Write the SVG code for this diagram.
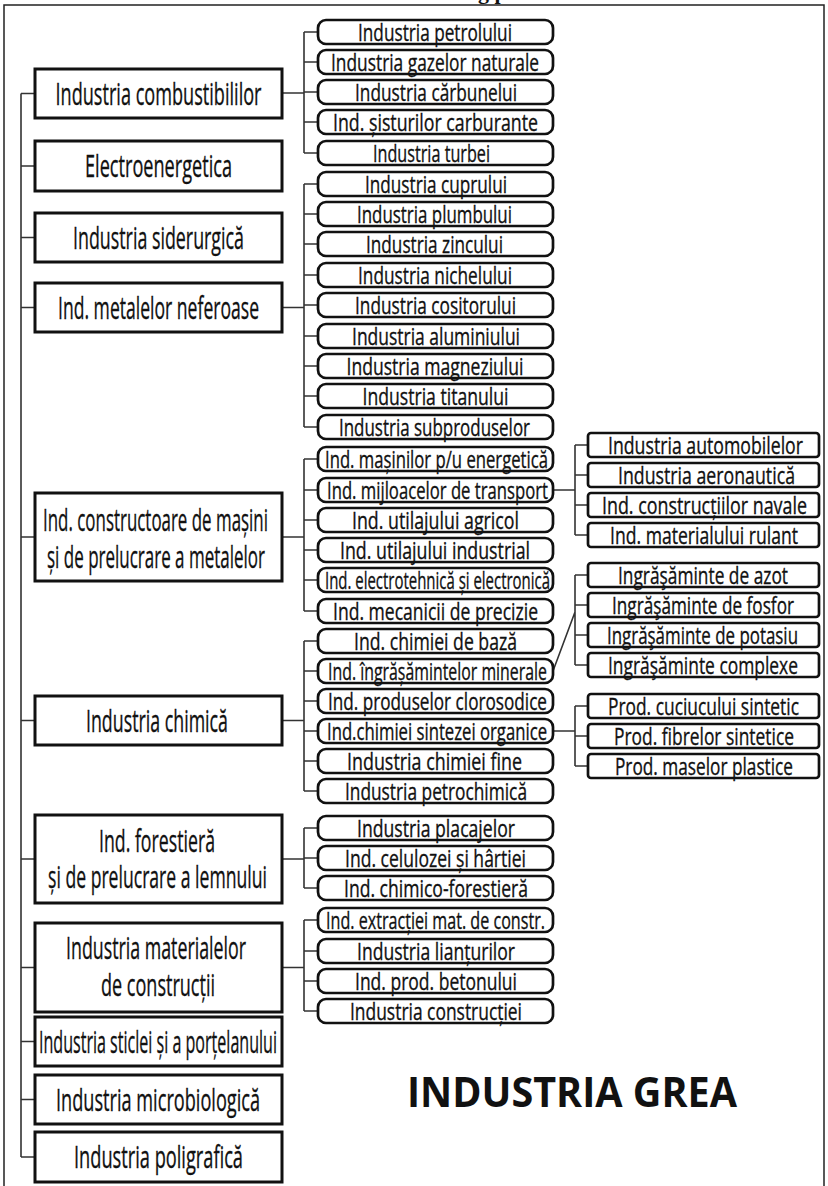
<svg xmlns="http://www.w3.org/2000/svg" width="828" height="1186" viewBox="0 0 828 1186">
<style>
  .bg{fill:#ffffff}
  .frame{fill:none;stroke:#222;stroke-width:1.5}
  .l1 rect{fill:#fff;stroke:#111;stroke-width:3}
  .l2 rect{fill:#fff;stroke:#111;stroke-width:2.7}
  .l3 rect{fill:#fff;stroke:#111;stroke-width:2.7}
  text{font-family:"Open Sans","Noto Sans","Liberation Sans",sans-serif;fill:#111;stroke:#111;stroke-width:0.35;text-anchor:middle}
  .t1{font-size:31px}
  .t2{font-size:24.5px}
  .t3{font-size:24.5px}
  .title{font-size:42px;font-weight:bold;stroke-width:0}
  .cut{font-family:"Liberation Serif",serif;font-size:22px;font-weight:bold;text-anchor:start;stroke-width:0}
  .conn path{fill:none;stroke:#333;stroke-width:1.6}
</style>
<rect class="bg" x="0" y="0" width="828" height="1186"/>
<path class="frame" d="M4,1190 V5 H824 V1190"/>
<text class="cut" x="478" y="-1.5">g p</text>

<g id="connectors" class="conn">
  <path d="M21,93.5 V1157 M21,93.5 H35 M21,166 H35 M21,237.5 H35 M21,307.5 H35 M21,537 H35 M21,720.5 H35 M21,859 H35 M21,967.5 H35 M21,1041.5 H35 M21,1099.5 H35 M21,1157 H35"/>
  <path d="M282,93 H304 M304,32 V153 M304,32 H318 M304,62 H318 M304,92 H318 M304,122 H318 M304,153 H318"/>
  <path d="M282,307.5 H304 M304,184 V427 M304,184 H318 M304,214 H318 M304,244 H318 M304,275 H318 M304,305 H318 M304,336 H318 M304,366 H318 M304,396 H318 M304,427 H318"/>
  <path d="M282,537 H304 M304,459 V611 M304,459 H318 M304,490 H318 M304,520 H318 M304,550 H318 M304,580 H318 M304,611 H318"/>
  <path d="M282,720.5 H304 M304,641 V791 M304,641 H318 M304,671 H318 M304,701 H318 M304,731 H318 M304,761 H318 M304,791 H318"/>
  <path d="M282,859 H304 M304,828 V888 M304,828 H318 M304,858 H318 M304,888 H318"/>
  <path d="M282,967.5 H304 M304,920 V1011 M304,920 H318 M304,951 H318 M304,981 H318 M304,1011 H318"/>
  <path d="M553,490 H575 M575,445 V535 M575,445 H588 M575,475 H588 M575,505 H588 M575,535 H588"/>
  <path d="M553,671 L575,612 M575,575 V665 M575,575 H588 M575,605 H588 M575,635 H588 M575,665 H588"/>
  <path d="M553,731 H575 M575,706 V766 M575,706 H588 M575,736 H588 M575,766 H588"/>
</g>

<!-- Level 1 -->
<g id="n-combustibili" class="l1"><rect x="35" y="69" width="247" height="49"/><text class="t1" x="158.5" y="104.5" textLength="206" lengthAdjust="spacingAndGlyphs">Industria combustibililor</text></g>
<g id="n-electro" class="l1"><rect x="35" y="141" width="247" height="50"/><text class="t1" x="158.5" y="177" textLength="147" lengthAdjust="spacingAndGlyphs">Electroenergetica</text></g>
<g id="n-siderurgica" class="l1"><rect x="35" y="213" width="247" height="49"/><text class="t1" x="158.5" y="248.5" textLength="171" lengthAdjust="spacingAndGlyphs">Industria siderurgică</text></g>
<g id="n-neferoase" class="l1"><rect x="35" y="283" width="247" height="49"/><text class="t1" x="158.5" y="318.5" textLength="201" lengthAdjust="spacingAndGlyphs">Ind. metalelor neferoase</text></g>
<g id="n-constructoare" class="l1"><rect x="35" y="493" width="247" height="88"/><text class="t1" x="155.5" y="530.5" textLength="225" lengthAdjust="spacingAndGlyphs">Ind. constructoare de mașini</text><text class="t1" x="156" y="567.5" textLength="218" lengthAdjust="spacingAndGlyphs">și de prelucrare a metalelor</text></g>
<g id="n-chimica" class="l1"><rect x="35" y="696" width="247" height="49"/><text class="t1" x="157" y="731.5" textLength="142" lengthAdjust="spacingAndGlyphs">Industria chimică</text></g>
<g id="n-forestiera" class="l1"><rect x="35" y="815" width="247" height="88"/><text class="t1" x="157" y="851.5" textLength="116" lengthAdjust="spacingAndGlyphs">Ind. forestieră</text><text class="t1" x="157.5" y="888" textLength="219" lengthAdjust="spacingAndGlyphs">și de prelucrare a lemnului</text></g>
<g id="n-materiale" class="l1"><rect x="35" y="923" width="247" height="89"/><text class="t1" x="156" y="959" textLength="180" lengthAdjust="spacingAndGlyphs">Industria materialelor</text><text class="t1" x="158" y="996" textLength="114" lengthAdjust="spacingAndGlyphs">de construcții</text></g>
<g id="n-sticla" class="l1"><rect x="35" y="1017" width="247" height="49"/><text class="t1" x="158" y="1052.5" textLength="238" lengthAdjust="spacingAndGlyphs">Industria sticlei și a porțelanului</text></g>
<g id="n-microbio" class="l1"><rect x="35" y="1075" width="247" height="49"/><text class="t1" x="158" y="1110.5" textLength="204" lengthAdjust="spacingAndGlyphs">Industria microbiologică</text></g>
<g id="n-poligrafica" class="l1"><rect x="35" y="1132" width="247" height="50"/><text class="t1" x="158.5" y="1168" textLength="169" lengthAdjust="spacingAndGlyphs">Industria poligrafică</text></g>

<!-- Level 2 -->
<g id="n-petrol" class="l2"><rect x="318" y="20" width="235" height="24" rx="8"/><text class="t2" x="435" y="40.5" textLength="154" lengthAdjust="spacingAndGlyphs">Industria petrolului</text></g>
<g id="n-gaze" class="l2"><rect x="318" y="50" width="235" height="24" rx="8"/><text class="t2" x="435" y="70.5" textLength="208" lengthAdjust="spacingAndGlyphs">Industria gazelor naturale</text></g>
<g id="n-carbune" class="l2"><rect x="318" y="80" width="235" height="24" rx="8"/><text class="t2" x="436" y="100.5" textLength="162" lengthAdjust="spacingAndGlyphs">Industria cărbunelui</text></g>
<g id="n-sisturi" class="l2"><rect x="318" y="110" width="235" height="24" rx="8"/><text class="t2" x="435.5" y="130.5" textLength="205" lengthAdjust="spacingAndGlyphs">Ind. șisturilor carburante</text></g>
<g id="n-turba" class="l2"><rect x="318" y="141" width="235" height="24" rx="8"/><text class="t2" x="431.5" y="161.5" textLength="117" lengthAdjust="spacingAndGlyphs">Industria turbei</text></g>
<g id="n-cupru" class="l2"><rect x="318" y="172" width="235" height="24" rx="8"/><text class="t2" x="436" y="192.5" textLength="142" lengthAdjust="spacingAndGlyphs">Industria cuprului</text></g>
<g id="n-plumb" class="l2"><rect x="318" y="202" width="235" height="24" rx="8"/><text class="t2" x="434.5" y="222.5" textLength="155" lengthAdjust="spacingAndGlyphs">Industria plumbului</text></g>
<g id="n-zinc" class="l2"><rect x="318" y="232" width="235" height="24" rx="8"/><text class="t2" x="434.5" y="252.5" textLength="137" lengthAdjust="spacingAndGlyphs">Industria zincului</text></g>
<g id="n-nichel" class="l2"><rect x="318" y="263" width="235" height="24" rx="8"/><text class="t2" x="435" y="283.5" textLength="154" lengthAdjust="spacingAndGlyphs">Industria nichelului</text></g>
<g id="n-cositor" class="l2"><rect x="318" y="293" width="235" height="24" rx="8"/><text class="t2" x="435.5" y="313.5" textLength="161" lengthAdjust="spacingAndGlyphs">Industria cositorului</text></g>
<g id="n-aluminiu" class="l2"><rect x="318" y="324" width="235" height="24" rx="8"/><text class="t2" x="436" y="344.5" textLength="168" lengthAdjust="spacingAndGlyphs">Industria aluminiului</text></g>
<g id="n-magneziu" class="l2"><rect x="318" y="354" width="235" height="24" rx="8"/><text class="t2" x="435" y="374.5" textLength="177" lengthAdjust="spacingAndGlyphs">Industria magneziului</text></g>
<g id="n-titan" class="l2"><rect x="318" y="384" width="235" height="24" rx="8"/><text class="t2" x="435.5" y="404.5" textLength="146" lengthAdjust="spacingAndGlyphs">Industria titanului</text></g>
<g id="n-subproduse" class="l2"><rect x="318" y="415" width="235" height="24" rx="8"/><text class="t2" x="434.5" y="435.5" textLength="191" lengthAdjust="spacingAndGlyphs">Industria subproduselor</text></g>
<g id="n-energetica" class="l2"><rect x="318" y="447" width="235" height="24" rx="8"/><text class="t2" x="436.5" y="467.5" textLength="223" lengthAdjust="spacingAndGlyphs">Ind. mașinilor p/u energetică</text></g>
<g id="n-transport" class="l2"><rect x="318" y="478" width="235" height="24" rx="8"/><text class="t2" x="437.5" y="498.5" textLength="221" lengthAdjust="spacingAndGlyphs">Ind. mijloacelor de transport</text></g>
<g id="n-agricol" class="l2"><rect x="318" y="508" width="235" height="24" rx="8"/><text class="t2" x="435.5" y="528.5" textLength="167" lengthAdjust="spacingAndGlyphs">Ind. utilajului agricol</text></g>
<g id="n-industrial" class="l2"><rect x="318" y="538" width="235" height="24" rx="8"/><text class="t2" x="435" y="558.5" textLength="190" lengthAdjust="spacingAndGlyphs">Ind. utilajului industrial</text></g>
<g id="n-electrotehnica" class="l2"><rect x="318" y="568" width="235" height="24" rx="8"/><text class="t2" x="437.5" y="588.5" textLength="225" lengthAdjust="spacingAndGlyphs">Ind. electrotehnică și electronică</text></g>
<g id="n-precizie" class="l2"><rect x="318" y="599" width="235" height="24" rx="8"/><text class="t2" x="435.5" y="619.5" textLength="205" lengthAdjust="spacingAndGlyphs">Ind. mecanicii de precizie</text></g>
<g id="n-chimiebaza" class="l2"><rect x="318" y="629" width="235" height="24" rx="8"/><text class="t2" x="435.5" y="649.5" textLength="163" lengthAdjust="spacingAndGlyphs">Ind. chimiei de bază</text></g>
<g id="n-ingrasaminte" class="l2"><rect x="318" y="659" width="235" height="24" rx="8"/><text class="t2" x="437.5" y="679.5" textLength="219" lengthAdjust="spacingAndGlyphs">Ind. îngrășămintelor minerale</text></g>
<g id="n-clorosodice" class="l2"><rect x="318" y="689" width="235" height="24" rx="8"/><text class="t2" x="437.5" y="709.5" textLength="219" lengthAdjust="spacingAndGlyphs">Ind. produselor clorosodice</text></g>
<g id="n-sinteza" class="l2"><rect x="318" y="719" width="235" height="24" rx="8"/><text class="t2" x="437" y="739.5" textLength="220" lengthAdjust="spacingAndGlyphs">Ind.chimiei sintezei organice</text></g>
<g id="n-fine" class="l2"><rect x="318" y="749" width="235" height="24" rx="8"/><text class="t2" x="434.5" y="769.5" textLength="175" lengthAdjust="spacingAndGlyphs">Industria chimiei fine</text></g>
<g id="n-petrochimica" class="l2"><rect x="318" y="779" width="235" height="24" rx="8"/><text class="t2" x="436" y="799.5" textLength="182" lengthAdjust="spacingAndGlyphs">Industria petrochimică</text></g>
<g id="n-placaje" class="l2"><rect x="318" y="816" width="235" height="24" rx="8"/><text class="t2" x="436" y="836.5" textLength="158" lengthAdjust="spacingAndGlyphs">Industria placajelor</text></g>
<g id="n-celuloza" class="l2"><rect x="318" y="846" width="235" height="24" rx="8"/><text class="t2" x="435.5" y="866.5" textLength="181" lengthAdjust="spacingAndGlyphs">Ind. celulozei și hârtiei</text></g>
<g id="n-chimicoforest" class="l2"><rect x="318" y="876" width="235" height="24" rx="8"/><text class="t2" x="436" y="896.5" textLength="184" lengthAdjust="spacingAndGlyphs">Ind. chimico-forestieră</text></g>
<g id="n-extractie" class="l2"><rect x="318" y="908" width="235" height="24" rx="8"/><text class="t2" x="435.5" y="928.5" textLength="219" lengthAdjust="spacingAndGlyphs">Ind. extracției mat. de constr.</text></g>
<g id="n-lianti" class="l2"><rect x="318" y="939" width="235" height="24" rx="8"/><text class="t2" x="436" y="959.5" textLength="158" lengthAdjust="spacingAndGlyphs">Industria lianțurilor</text></g>
<g id="n-beton" class="l2"><rect x="318" y="969" width="235" height="24" rx="8"/><text class="t2" x="436" y="989.5" textLength="162" lengthAdjust="spacingAndGlyphs">Ind. prod. betonului</text></g>
<g id="n-constructie" class="l2"><rect x="318" y="999" width="235" height="24" rx="8"/><text class="t2" x="436" y="1019.5" textLength="172" lengthAdjust="spacingAndGlyphs">Industria construcției</text></g>

<!-- Level 3 -->
<g id="n-auto" class="l3"><rect x="588" y="433" width="231" height="24" rx="3"/><text class="t3" x="705.5" y="453.5" textLength="195" lengthAdjust="spacingAndGlyphs">Industria automobilelor</text></g>
<g id="n-aero" class="l3"><rect x="588" y="463" width="231" height="24" rx="3"/><text class="t3" x="706.5" y="483.5" textLength="177" lengthAdjust="spacingAndGlyphs">Industria aeronautică</text></g>
<g id="n-naval" class="l3"><rect x="588" y="493" width="231" height="24" rx="3"/><text class="t3" x="704.5" y="513.5" textLength="205" lengthAdjust="spacingAndGlyphs">Ind. construcțiilor navale</text></g>
<g id="n-rulant" class="l3"><rect x="588" y="523" width="231" height="24" rx="3"/><text class="t3" x="704" y="543.5" textLength="188" lengthAdjust="spacingAndGlyphs">Ind. materialului rulant</text></g>
<g id="n-azot" class="l3"><rect x="588" y="563" width="231" height="24" rx="3"/><text class="t3" x="703" y="583.5" textLength="170" lengthAdjust="spacingAndGlyphs">Ingrăşăminte de azot</text></g>
<g id="n-fosfor" class="l3"><rect x="588" y="593" width="231" height="24" rx="3"/><text class="t3" x="703" y="613.5" textLength="182" lengthAdjust="spacingAndGlyphs">Ingrăşăminte de fosfor</text></g>
<g id="n-potasiu" class="l3"><rect x="588" y="623" width="231" height="24" rx="3"/><text class="t3" x="702.5" y="643.5" textLength="191" lengthAdjust="spacingAndGlyphs">Ingrăşăminte de potasiu</text></g>
<g id="n-complexe" class="l3"><rect x="588" y="653" width="231" height="24" rx="3"/><text class="t3" x="703" y="673.5" textLength="190" lengthAdjust="spacingAndGlyphs">Ingrăşăminte complexe</text></g>
<g id="n-cauciuc" class="l3"><rect x="588" y="694" width="231" height="24" rx="3"/><text class="t3" x="703.5" y="714.5" textLength="191" lengthAdjust="spacingAndGlyphs">Prod. cuciucului sintetic</text></g>
<g id="n-fibre" class="l3"><rect x="588" y="724" width="231" height="24" rx="3"/><text class="t3" x="704" y="744.5" textLength="180" lengthAdjust="spacingAndGlyphs">Prod. fibrelor sintetice</text></g>
<g id="n-mase" class="l3"><rect x="588" y="754" width="231" height="24" rx="3"/><text class="t3" x="704" y="774.5" textLength="178" lengthAdjust="spacingAndGlyphs">Prod. maselor plastice</text></g>

<text class="title" x="572" y="1107" textLength="330" lengthAdjust="spacingAndGlyphs">INDUSTRIA GREA</text>
</svg>
